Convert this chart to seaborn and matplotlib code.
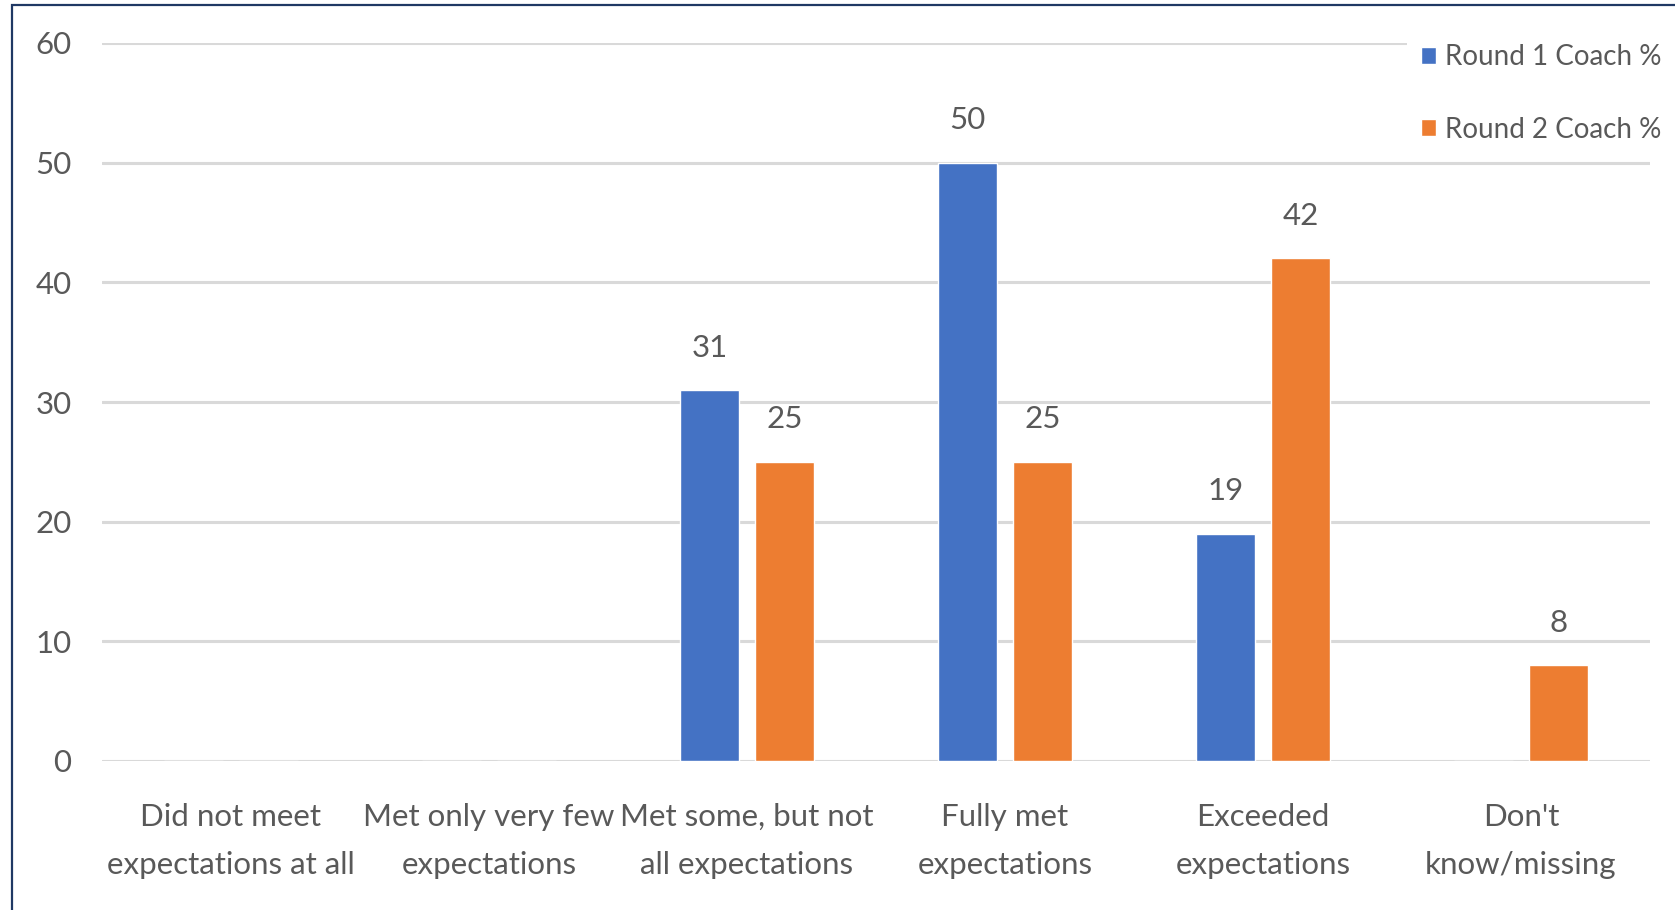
import matplotlib
matplotlib.use("Agg")
import matplotlib.pyplot as plt
from matplotlib.patches import Rectangle
import pandas as pd
import seaborn as sns

# Response categories and the share (%) of coaches choosing each one
categories = [
    "Did not meet expectations at all",
    "Met only very few expectations",
    "Met some, but not all expectations",
    "Fully met expectations",
    "Exceeded expectations",
    "Don't know/missing",
]
tick_labels = [
    "Did not meet\nexpectations at all",
    "Met only very few\nexpectations",
    "Met some, but not\nall expectations",
    "Fully met\nexpectations",
    "Exceeded\nexpectations",
    "Don't\nknow/missing",
]
series_names = ["Round 1 Coach %", "Round 2 Coach %"]
round1 = [0, 0, 31, 50, 19, 0]
round2 = [0, 0, 25, 25, 42, 8]
y_ticks = [0, 10, 20, 30, 40, 50, 60]

colors = ["#4472C4", "#ED7D31"]
text_color = "#595959"
grid_color = "#D9D9D9"

df = pd.DataFrame({
    "category": categories * 2,
    "value": round1 + round2,
    "series": [series_names[0]] * len(categories) + [series_names[1]] * len(categories),
})

sns.set_theme(style="white")
plt.rcParams["font.family"] = ["Lato", "DejaVu Sans"]

fig = plt.figure(figsize=(16.75, 9.1), dpi=100)
ax = fig.add_axes([102 / 1675, 149 / 910, (1650 - 102) / 1675, (761 - 43) / 910])

sns.barplot(
    data=df, x="category", y="value", hue="series",
    order=categories, hue_order=series_names,
    palette=colors, saturation=1, width=0.58, gap=0.21,
    errorbar=None, ax=ax,
)

ax.set_xlim(-0.5, len(categories) - 0.5)
ax.set_ylim(0, 60)
ax.set_yticks(y_ticks)
ax.set_yticklabels([str(t) for t in y_ticks])
ax.set_xticks(range(len(categories)))
ax.set_xticklabels(tick_labels, linespacing=1.88)
ax.set_xlabel("")
ax.set_ylabel("")

for s in ax.spines.values():
    s.set_visible(False)
ax.yaxis.grid(True, color=grid_color, linewidth=2.2)
ax.set_axisbelow(True)
ax.tick_params(axis="y", length=0, pad=22, labelsize=22.5, labelcolor=text_color)
ax.tick_params(axis="x", length=0, pad=30, labelsize=22.5, labelcolor=text_color)

# Value labels above non-zero bars
for container, vals in zip(ax.containers, [round1, round2]):
    labels = [f"{v:g}" if v else "" for v in vals]
    ax.bar_label(container, labels=labels, padding=20.5, fontsize=22.5, color=text_color)

leg = ax.legend(
    loc="upper left", bbox_to_anchor=(1407 / 1675, 1 - 30 / 910),
    bbox_transform=fig.transFigure, frameon=True, fontsize=20,
    handlelength=0.56, handleheight=0.56, handletextpad=0.3,
    labelspacing=1.68, borderpad=0.5, borderaxespad=0,
)
leg.get_frame().set_facecolor("white")
leg.get_frame().set_edgecolor("none")
leg.get_frame().set_alpha(1)
for t in leg.get_texts():
    t.set_color(text_color)

# Thin dark frame around the chart area
fig.patches.append(Rectangle(
    (12 / 1675, -0.1), 1.2, 1.1 - 5.5 / 910,
    transform=fig.transFigure, fill=False, edgecolor="#1F3864", linewidth=1.6,
))

fig.savefig("out.png", dpi=100, facecolor="white")
